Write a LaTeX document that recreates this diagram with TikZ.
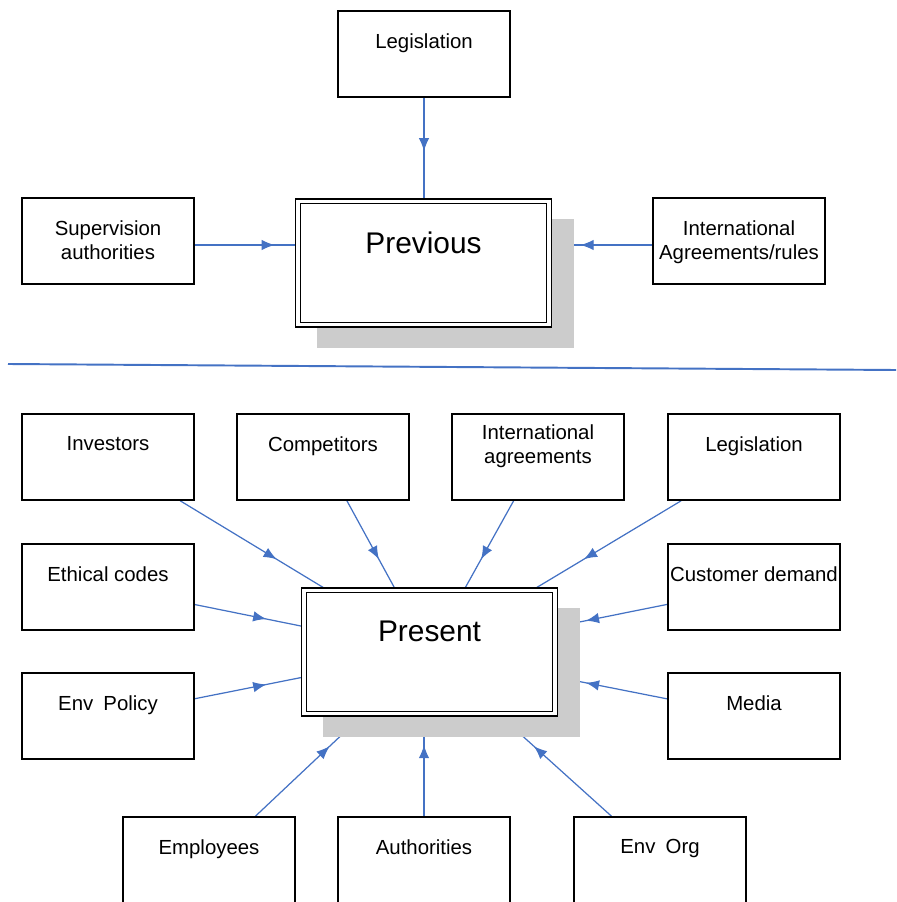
\documentclass[tikz,border=0pt]{standalone}
\usepackage{fontspec}
\setmainfont{Liberation Sans}
\usetikzlibrary{arrows.meta,decorations.markings,shadows,backgrounds}
\definecolor{bleu}{RGB}{68,114,196}
\tikzset{
  boite/.style={draw, line width=0.9pt, fill=white, minimum width=3.44cm, minimum height=1.72cm,
    inner xsep=1pt, align=center, text depth=15pt, font=\fontsize{11.6pt}{13.6pt}\selectfont},
  cadre/.style={draw, line width=0.9pt, double, double distance=1.8pt, fill=white,
    minimum width=5.02cm, minimum height=2.47cm, text depth=23.5pt, font=\fontsize{17pt}{20pt}\selectfont,
    drop shadow={shadow xshift=0.44cm, shadow yshift=-0.41cm, fill=black!20, draw=black!20,
      line width=3.6pt, opacity=1}},
  lien/.style={draw=bleu, line width=0.7pt, postaction={decorate},
    decoration={markings, mark=at position #1 with {\arrow{Latex[length=7.5pt,width=6pt]}}}},
  lien/.default=0.66
}
\begin{document}
\begin{tikzpicture}[x=0.02cm, y=-0.02cm]
    \useasboundingbox (0,0) rectangle (896,902);
    % partie haute
    \node[boite] (legisA) at (424,54) {Legislation};
    \node[boite, text depth=1.5pt] (superv) at (108,241) {Supervision\\authorities};
    \node[boite, text depth=1.5pt] (intlA) at (739,241) {International\\Agreements/rules};
    \node[cadre] (prev) at (423.5,263) {Previous};
    % separation
    \draw[bleu, line width=1.1pt] (8,364) -- (896,370);
    % partie basse
    \node[boite] (invest) at (108,457) {Investors};
    \node[boite] (compet) at (323,457) {Competitors};
    \node[boite] (intlB) at (538,457) {International\\agreements};
    \node[boite] (legisB) at (754,457) {Legislation};
    \node[boite] (ethic) at (108,587) {Ethical codes};
    \node[boite] (client) at (754,587) {Customer demand};
    \node[boite] (envpol) at (108,716) {Env\enspace Policy};
    \node[boite] (media) at (754,716) {Media};
    \node[boite] (employ) at (209,860) {Employees};
    \node[boite] (auth) at (424,860) {Authorities};
    \node[boite] (envorg) at (660,860) {Env\enspace Org};
    \node[cadre] (pres) at (429.5,652) {Present};
    \begin{scope}[on background layer]
    \draw[lien=0.52] (legisA) -- (legisA |- prev.north);
    \draw[lien=0.78] ([yshift=-0.08cm]superv.east) -- ([yshift=-0.08cm]prev.west |- superv.east);
    \draw[lien=0.7] ([yshift=-0.08cm]intlA.west) -- ([yshift=-0.08cm]prev.east |- intlA.west);
    \draw[lien] (invest) -- (pres);
    \draw[lien] (compet) -- (pres);
    \draw[lien] (intlB) -- (pres);
    \draw[lien] (legisB) -- (pres);
    \draw[lien] (ethic) -- (pres);
    \draw[lien] (envpol) -- (pres);
    \draw[lien=0.73] (client) -- (pres);
    \draw[lien=0.73] (media) -- (pres);
    \draw[lien=0.69] (employ) -- (pres);
    \draw[lien=0.7] (auth) -- (auth |- pres.south);
    \draw[lien=0.69] (envorg) -- (pres);
    \end{scope}
\end{tikzpicture}
\end{document}
